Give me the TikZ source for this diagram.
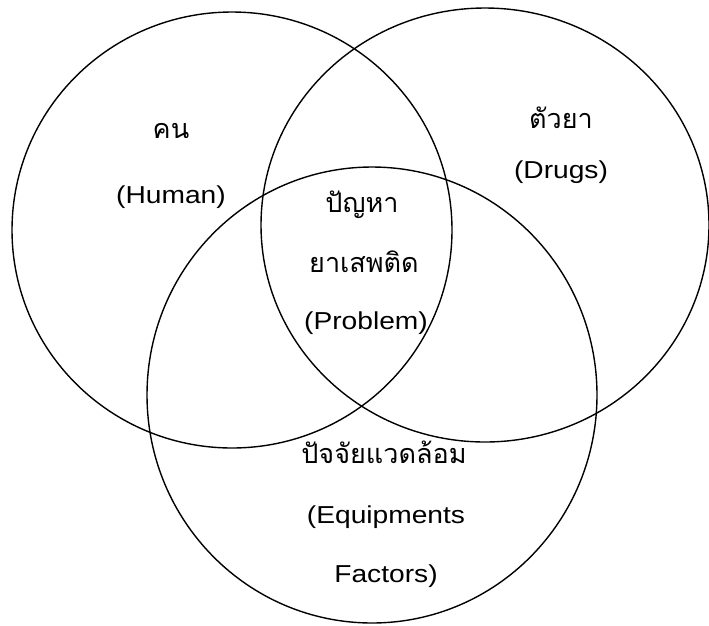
\documentclass[tikz,border=0pt]{standalone}
\usepackage{fontspec}
\setmainfont[FakeStretch=1.15]{Liberation Sans}
\newfontfamily\thaifont[Script=Thai]{Loma}
\begin{document}
\begin{tikzpicture}[x=1pt,y=-1pt,
  ring/.style={line width=1.4pt,draw=black},
  lbl/.style={anchor=base,inner sep=0pt,font=\fontsize{24.5}{28}\selectfont},
  tlbl/.style={anchor=base,inner sep=0pt,font=\thaifont\fontsize{27}{30}\selectfont}]
\useasboundingbox (0,0) rectangle (709,625);
\coordinate (cl) at (232,230);
\coordinate (cr) at (485,225);
\coordinate (cb) at (372,395);
\draw[ring] (cl) ellipse [x radius=220pt, y radius=218pt];
\draw[ring] (cr) ellipse [x radius=224pt, y radius=217pt];
\draw[ring] (cb) ellipse [x radius=225pt, y radius=228pt];
\node[tlbl] (human-th) at (171,138) {คน};
\node[lbl]  (human-en) at (171,203) {(Human)};
\node[tlbl] (drugs-th) at (561,128) {ตัวยา};
\node[lbl]  (drugs-en) at (561,178) {(Drugs)};
\node[tlbl] (prob-th1) at (362,212) {ปัญหา};
\node[tlbl] (prob-th2) at (364,272) {ยาเสพติด};
\node[lbl]  (prob-en) at (366,329) {(Problem)};
\node[tlbl] (env-th) at (384,463) {ปัจจัยแวดล้อม};
\node[lbl]  (env-en1) at (386,523) {(Equipments};
\node[lbl]  (env-en2) at (386,582) {Factors)};
\end{tikzpicture}
\end{document}
